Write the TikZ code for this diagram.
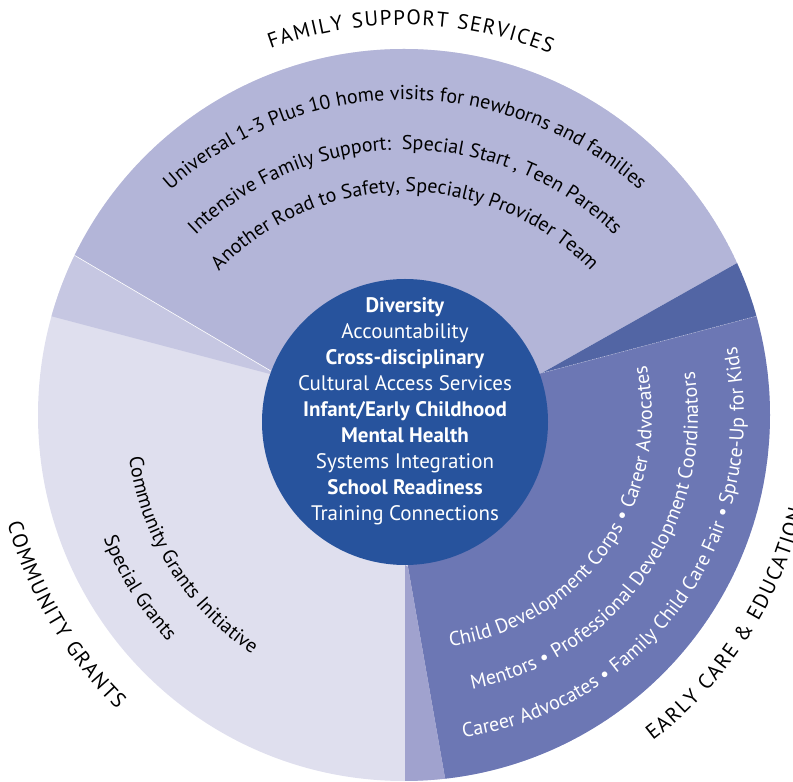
\documentclass[tikz,border=0pt]{standalone}
\usepackage{fontspec}
\setmainfont{PT Sans}
\usetikzlibrary{%
    decorations.text,%
    calc%
}

\definecolor{familyfill}{HTML}{B3B5D8}
\definecolor{bandfill}{HTML}{C6C7E2}
\definecolor{grantfill}{HTML}{DFDFEE}
\definecolor{wedgefill}{HTML}{5265A4}
\definecolor{carefill}{HTML}{6C77B4}
\definecolor{stripfill}{HTML}{A0A2CE}
\definecolor{corefill}{HTML}{27539D}

\newcommand\ringfont{\fontsize{20}{24}\selectfont}
\newcommand\capfont{\fontsize{21}{24}\selectfont}
\newcommand\capgap{\kern1.4pt}
\newcommand\capspace{\kern9pt}

\tikzset{
    ringtext/.style={decorate, decoration={text along path, text align=center, text={|\ringfont|#1}}},
    ringtextw/.style={decorate, decoration={text along path, text align=center, text color=white, text={|\ringfont|#1}}},
    labeltext/.style={decorate, decoration={text along path, text align=center, text={|\capfont|#1}}},
    coretext/.style={align=center, text=white, font=\fontsize{21}{26}\selectfont},
}

\begin{document}
\begin{tikzpicture}[x=1pt, y=1pt]
    \path[use as bounding box] (0,0) rectangle (793,782);
    \clip (0,0) rectangle (793,782);

    % Define centres
    \coordinate (o) at (404,367);   % outer ring
    \coordinate (c) at (405,360);   % core disc
    \coordinate (fam) at (405,332); % family wedge apex
    \coordinate (ec) at (420,366);  % early care text centre
    % Define wedge corners
    \coordinate (la) at (270,408);
    \coordinate (ra) at (542,409);
    \coordinate (s1) at (408,215);
    \coordinate (s2) at (480.8,-200);

    % Draw the wedges
    \begin{scope}
        \clip (o) circle (366);
        \fill[grantfill] (o) circle (366);
        \fill[familyfill] (fam) -- ($(fam)+(149.5:800)$) -- (-300,1100) -- (1100,1100) -- ($(fam)+(29.4:900)$) -- cycle;
        \fill[bandfill] (fam) -- ($(fam)+(149.5:800)$) -- ($(la)+(165.2:800)$) -- (la) -- cycle;
        \fill[wedgefill] (ra) -- ($(ra)+(29.4:800)$) -- ($(ra)+(14.85:800)$) -- cycle;
        \fill[carefill] (ra) -- ($(ra)+(14.85:800)$) -- (1200,-200) -- (s2) -- (s1) -- (c) -- cycle;
        \fill[stripfill] (405,217) -- (405,-200) -- (s2) -- (s1) -- cycle;
        \draw[white, line width=0.6pt] (fam) -- ($(fam)+(149.5:800)$);
        \draw[white, opacity=0.5, line width=0.5pt, dash pattern=on 1pt off 1pt] (ra) -- ($(ra)+(14.85:800)$);
    \end{scope}

    % Draw the core
    \fill[corefill] (c) circle (143);
    \node[coretext] (core) at (405,370.5) {%
        \textbf{Diversity}\\
        Accountability\\
        \textbf{Cross-disciplinary}\\
        Cultural Access Services\\
        \textbf{Infant/Early Childhood}\\
        \textbf{Mental Health}\\
        Systems Integration\\
        \textbf{School Readiness}\\
        Training Connections};

    % Family support lines
    \path[ringtext={Universal 1-3 Plus 10 home visits for newborns and families}]
        ($(fam)+(160:350)$) arc[start angle=160, end angle=20, radius=350];
    \path[ringtext={Intensive Family Support:{\ } Special Start , Teen Parents}]
        ($(fam)+(160:300)$) arc[start angle=160, end angle=20, radius=300];
    \path[ringtext={Another Road to Safety, Specialty Provider Team}]
        ($(fam)+(160:258)$) arc[start angle=160, end angle=20, radius=258];

    % Community grants lines
    \path[ringtext={Community Grants Initiative}]
        ($(c)+(162:278)$) arc[start angle=162, end angle=262, radius=278];
    \path[ringtext={Special Grants}]
        ($(c)+(162:323)$) arc[start angle=162, end angle=262, radius=323];

    % Early care lines
    \path[ringtextw={Child Development Corps • Career Advocates}]
        ($(ec)+(-105:232)$) arc[start angle=-105, end angle=35, radius=232];
    \path[ringtextw={Mentors • Professional Development Coordinators}]
        ($(ec)+(-105:278)$) arc[start angle=-105, end angle=35, radius=278];
    \path[ringtextw={Career Advocates • Family Child Care Fair • Spruce-Up for Kids}]
        ($(ec)+(-105:324)$) arc[start angle=-105, end angle=35, radius=324];

    % Ring labels, letter-spaced with {\capgap}
    \path[labeltext={F{\capgap}A{\capgap}M{\capgap}I{\capgap}L{\capgap}Y{\capspace}S{\capgap}U{\capgap}P{\capgap}P{\capgap}O{\capgap}R{\capgap}T{\capspace}S{\capgap}E{\capgap}R{\capgap}V{\capgap}I{\capgap}C{\capgap}E{\capgap}S}]
        ($(o)+(134:390)$) arc[start angle=134, end angle=44, radius=390];
    \path[labeltext={C{\capgap}O{\capgap}M{\capgap}M{\capgap}U{\capgap}N{\capgap}I{\capgap}T{\capgap}Y{\capspace}G{\capgap}R{\capgap}A{\capgap}N{\capgap}T{\capgap}S}]
        ($(o)+(165.5:411)$) arc[start angle=165.5, end angle=255.5, radius=411];
    \path[labeltext={E{\capgap}A{\capgap}R{\capgap}L{\capgap}Y{\capspace}C{\capgap}A{\capgap}R{\capgap}E{\capspace}{\&}{\capspace}E{\capgap}D{\capgap}U{\capgap}C{\capgap}A{\capgap}T{\capgap}I{\capgap}O{\capgap}N}]
        ($(o)+(-78:410)$) arc[start angle=-78, end angle=12, radius=410];
\end{tikzpicture}
\end{document}
